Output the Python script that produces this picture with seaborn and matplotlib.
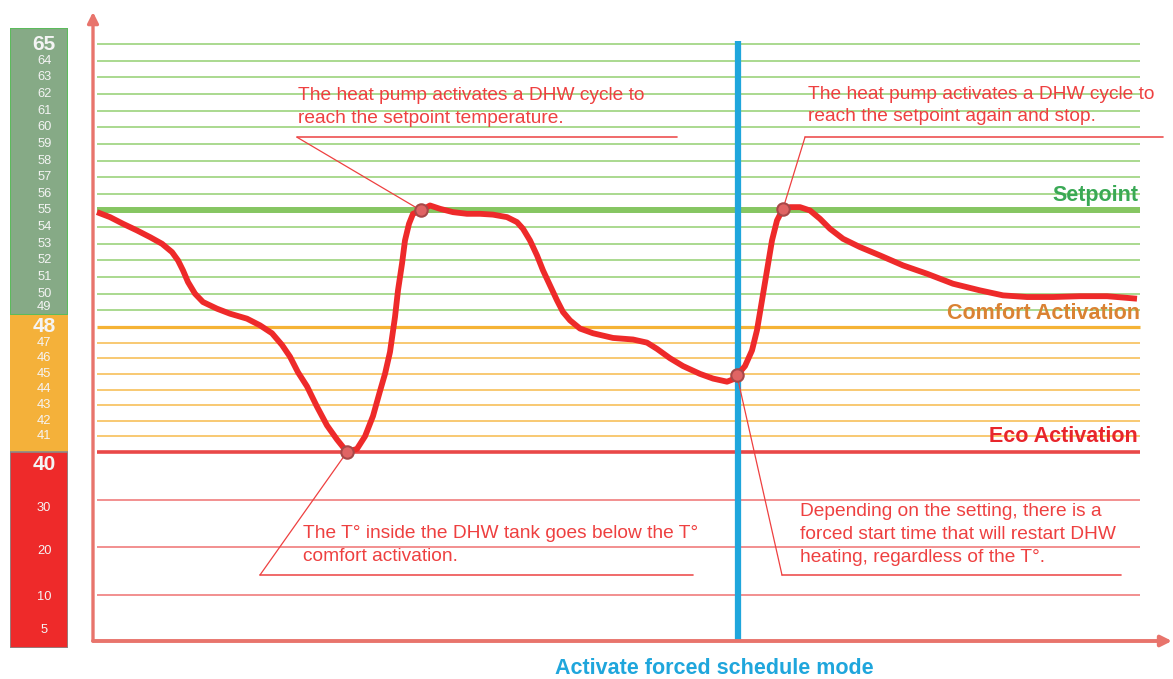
import numpy as np
import matplotlib
matplotlib.use("Agg")
import matplotlib.pyplot as plt
import matplotlib.patches as mpatches
import seaborn as sns

# ---------------- data ----------------
time = [0.4, 1.7, 3.0, 4.4, 5.7, 6.9, 7.9, 8.5, 9.0, 9.5, 10.2, 11.0, 12.4, 13.7, 15.4,
        16.7, 17.9, 18.9, 19.7, 20.5, 21.4, 22.4, 23.4, 24.4, 25.4, 26.4, 27.2, 28.0,
        28.7, 29.2, 29.7, 30.2, 30.5, 30.9, 31.2, 31.6, 32.0, 32.8, 33.7, 34.7, 36.0,
        37.4, 38.7, 40.0, 41.4, 42.4, 43.0, 43.7, 44.4, 45.0, 45.7, 46.4, 47.0, 47.7,
        48.7, 50.0, 52.0, 54.0, 55.4, 56.4, 57.7, 59.0, 60.7, 62.0, 63.4, 64.0, 64.4,
        65.2, 65.9, 66.4, 66.9, 67.4, 67.9, 68.4, 69.0, 69.7, 70.7, 71.7, 72.7, 73.7,
        75.0, 76.7, 78.7, 81.0, 83.4, 86.0, 88.7, 91.0, 93.4, 96.0, 98.7, 101.4, 104.4]
temp = [54.9, 54.6, 54.2, 53.8, 53.4, 53.0, 52.5, 52.0, 51.4, 50.7, 50.0, 49.5, 49.1,
        48.8, 48.5, 48.1, 47.6, 46.85, 46.1, 45.1, 44.2, 42.9, 41.7, 40.8, 40.0, 40.2,
        41.0, 42.3, 43.9, 45.0, 46.4, 48.6, 50.2, 51.8, 53.2, 54.2, 54.8, 55.0, 55.3,
        55.1, 54.9, 54.8, 54.8, 54.75, 54.6, 54.3, 53.9, 53.2, 52.3, 51.4, 50.5, 49.6,
        48.9, 48.4, 47.9, 47.6, 47.3, 47.2, 47.0, 46.6, 46.0, 45.5, 45.0, 44.7, 44.5,
        44.65, 44.9, 45.5, 46.5, 47.8, 49.6, 51.4, 53.2, 54.4, 55.1, 55.2, 55.2, 55.0,
        54.5, 53.9, 53.3, 52.8, 52.3, 51.7, 51.2, 50.6, 50.2, 49.9, 49.8, 49.8, 49.85,
        49.85, 49.7]

marker_time = [25.4, 32.8, 64.4, 69.0]
marker_temp = [40.0, 55.0, 44.9, 55.1]

setpoint = 55
comfort = 48
eco = 40
schedule_time = 64.5
green_levels = [49, 50, 51, 52, 53, 54, 56, 57, 58, 59, 60, 61, 62, 63, 64, 65]
orange_levels = [41, 42, 43, 44, 45, 46, 47]
red_levels = [10, 20, 30]

scale_labels = ["65", "64", "63", "62", "61", "60", "59", "58", "57", "56", "55", "54",
                "53", "52", "51", "50", "49", "48", "47", "46", "45", "44", "43", "42",
                "41", "40", "30", "20", "10", "5"]
scale_values = [65, 64, 63, 62, 61, 60, 59, 58, 57, 56, 55, 54, 53, 52, 51, 50, 49, 48,
                47, 46, 45, 44, 43, 42, 41, 40, 30, 20, 10, 5]
big_labels = ["65", "48", "40"]

ann_texts = [
    "The heat pump activates a DHW cycle to\nreach the setpoint temperature.",
    "The heat pump activates a DHW cycle to\nreach the setpoint again and stop.",
    "The T\u00b0 inside the DHW tank goes below the T\u00b0\ncomfort activation.",
    "Depending on the setting, there is a\nforced start time that will restart DHW\nheating, regardless of the T\u00b0.",
]
ann_text_xy = [(20.5, 61.2), (71.5, 61.3), (21.0, 20.5), (70.7, 22.7)]
ann_under_y = [59.4, 59.4, 14.2, 14.2]
ann_under_x = [(20.4, 58.4), (71.2, 107.0), (16.7, 60.0), (68.9, 102.8)]
ann_target = [1, 3, 0, 2]  # index into markers

# ---------------- scale (non-linear temperature axis) ----------------
TEMP_BP = [-50, 0, 5, 10, 40, 48, 65, 120]
POS_BP = [-350, -20, 13, 46, 189, 314, 597, 1512.75]


def fwd(t):
    return np.interp(t, TEMP_BP, POS_BP)


def inv(p):
    return np.interp(p, POS_BP, TEMP_BP)


sns.set_theme(style="white")
plt.rcParams["font.family"] = ["Liberation Sans", "DejaVu Sans"]

W, H = 1173, 679
fig = plt.figure(figsize=(W / 100, H / 100), dpi=100)

# main axes
ax = fig.add_axes([93 / W, (H - 641) / H, (1172 - 93) / W, (641 - 12) / H])
ax.set_yscale("function", functions=(fwd, inv))
ax.set_xlim(0, 107.9)
ax.set_ylim(float(inv(0)), float(inv(629)))
ax.set_xticks([])
ax.set_yticks([])
ax.yaxis.set_minor_locator(matplotlib.ticker.NullLocator())
for s in ax.spines.values():
    s.set_visible(False)
ax.set_facecolor("white")

x0, x1 = 0.4, 104.7
ax.hlines(green_levels, x0, x1, color="#93cf72", lw=1.1, zorder=1)
ax.hlines(orange_levels, x0, x1, color="#f6bb4c", lw=1.1, zorder=1)
ax.hlines(red_levels, x0, x1, color="#ef7272", lw=1.1, zorder=1)
ax.hlines([setpoint], x0, x1, color="#86c662", lw=4.3, zorder=2)
ax.hlines([comfort], x0, x1, color="#f5b335", lw=2.3, zorder=2)
ax.hlines([eco], x0, x1, color="#e94848", lw=2.6, zorder=2)

ax.text(104.5, 55.87, "Setpoint", color="#3aa955", fontsize=15.5, fontweight="bold",
        ha="right", va="center", zorder=6)
ax.text(104.7, 48.84, "Comfort Activation", color="#da8232", fontsize=15.5,
        fontweight="bold", ha="right", va="center", zorder=6)
ax.text(104.5, 41.0, "Eco Activation", color="#e8262c", fontsize=15.5,
        fontweight="bold", ha="right", va="center", zorder=6)

# forced schedule line
ax.vlines([schedule_time], float(inv(0)), 65.2, color="#1fa6dc", lw=4.5, zorder=3)

# temperature curve
sns.lineplot(x=time, y=temp, sort=False, estimator=None, ax=ax, color="#ee2a2a",
             lw=4.2, zorder=4, legend=False)
for ln in ax.lines:
    ln.set_solid_joinstyle("round")
    ln.set_solid_capstyle("butt")

# annotations
for txt, (tx, ty), uy, (ux0, ux1), ti in zip(ann_texts, ann_text_xy, ann_under_y,
                                                ann_under_x, ann_target):
    ax.text(tx, ty, txt, color="#ee4040", fontsize=13.8, ha="left", va="center",
            linespacing=1.43, zorder=6)
    ax.plot([ux0, ux1], [uy, uy], color="#ee5050", lw=1.2, zorder=5)
    ax.plot([ux0, marker_time[ti]], [uy, marker_temp[ti]], color="#ee4040", lw=0.9,
            zorder=5)

sns.scatterplot(x=marker_time, y=marker_temp, ax=ax, s=80, color="#e06464",
                edgecolor="#a84848", linewidth=1.5, zorder=7, legend=False)

# axis arrows
arrow_col = "#e8746c"
ax.annotate("", xy=(0, 1), xytext=(0, 0), xycoords="axes fraction",
            arrowprops=dict(arrowstyle="-|>", color=arrow_col, lw=2.4,
                            mutation_scale=16, shrinkA=0, shrinkB=0), zorder=8)
ax.annotate("", xy=(1, 0), xytext=(0, 0), xycoords="axes fraction",
            arrowprops=dict(arrowstyle="-|>", color=arrow_col, lw=2.8,
                            mutation_scale=16, shrinkA=0, shrinkB=0), zorder=8)

fig.text(714 / W, 1 - 668 / H, "Activate forced schedule mode", color="#1fa6dc",
         fontsize=15.5, fontweight="bold", ha="center", va="center")

# left colour scale
axb = fig.add_axes([10 / W, (H - 648) / H, 58 / W, (648 - 28) / H])
axb.set_yscale("function", functions=(fwd, inv))
b_lo, b_hi = float(inv(-7)), float(inv(613))
axb.set_ylim(b_lo, b_hi)
axb.set_xlim(0, 1)
axb.set_xticks([])
axb.set_yticks([])
axb.yaxis.set_minor_locator(matplotlib.ticker.NullLocator())
for s in axb.spines.values():
    s.set_visible(False)
g_lo = float(inv(641 - 315))
axb.add_patch(mpatches.Rectangle((0, g_lo), 1, b_hi - g_lo, facecolor="#86aa86",
                                 edgecolor="#5cbb5c", lw=1.5, zorder=1))
axb.add_patch(mpatches.Rectangle((0, eco), 1, g_lo - eco, facecolor="#f4b13a",
                                 edgecolor="none", zorder=1))
axb.add_patch(mpatches.Rectangle((0, b_lo), 1, eco - b_lo, facecolor="#ee2a2a",
                                 edgecolor="#8a8a8a", lw=1.2, zorder=1))
label_offset_px = {"40": -12, "30": -8, "20": -4, "10": -2, "5": -2, "49": 3}
for lab, val in zip(scale_labels, scale_values):
    big = lab in big_labels
    dy = label_offset_px.get(lab, 0)
    axb.annotate(lab, xy=(0.59, val), xytext=(0, dy), textcoords="offset pixels",
                 color="#f4f4f4", fontsize=15 if big else 9.3,
                 fontweight="bold" if big else "normal", ha="center", va="center",
                 zorder=3)

fig.savefig("out.png", dpi=100)
